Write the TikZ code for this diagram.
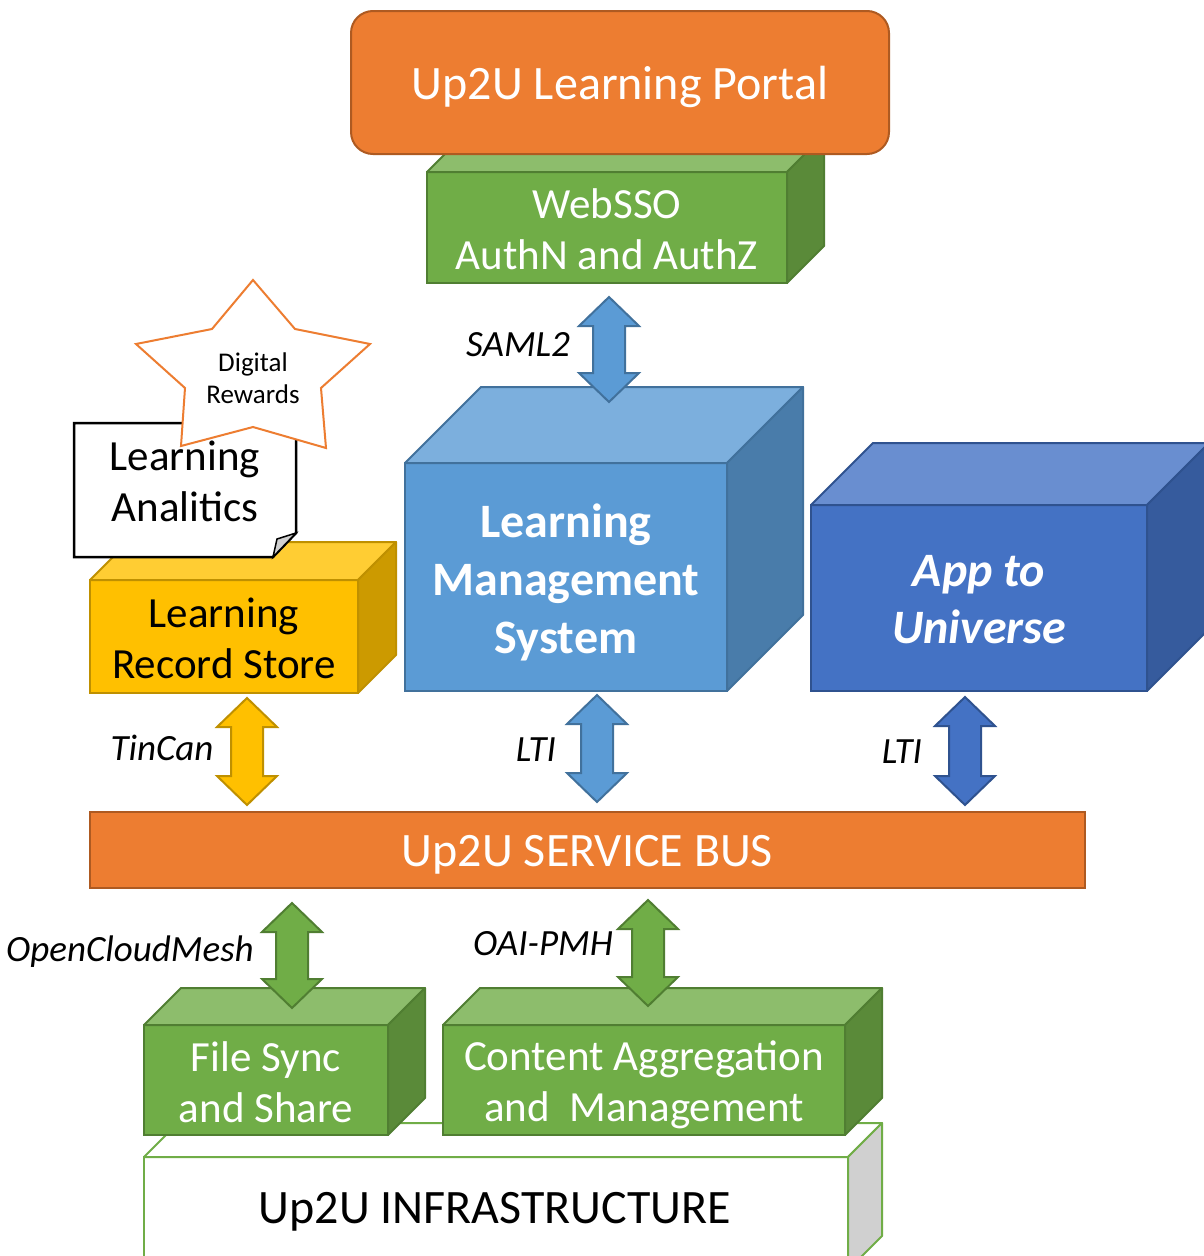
\documentclass[tikz,border=0pt]{standalone}
\usepackage{fontspec}
\setmainfont{Carlito}
\usetikzlibrary{calc}

\definecolor{orangefill}{HTML}{ED7D31}
\definecolor{orangeline}{HTML}{AE5A21}
\definecolor{greenfill}{HTML}{70AD47}
\definecolor{greentop}{HTML}{8DBD6C}
\definecolor{greenside}{HTML}{5A8A39}
\definecolor{greenline}{HTML}{507E32}
\definecolor{bluefill}{HTML}{5B9BD5}
\definecolor{bluetop}{HTML}{7CAFDD}
\definecolor{blueside}{HTML}{497CAA}
\definecolor{blueline}{HTML}{41719C}
\definecolor{navyfill}{HTML}{4472C4}
\definecolor{navytop}{HTML}{698ED0}
\definecolor{navyside}{HTML}{365B9D}
\definecolor{navyline}{HTML}{2F528F}
\definecolor{goldfill}{HTML}{FFC000}
\definecolor{goldtop}{HTML}{FFCD33}
\definecolor{goldside}{HTML}{CC9A00}
\definecolor{goldline}{HTML}{BF9000}
\definecolor{greyside}{HTML}{D0D0D0}

\newcommand{\fbig}{\fontsize{48}{58}\selectfont}
\newcommand{\fmid}{\fontsize{43}{51}\selectfont}
\newcommand{\flms}{\fontsize{48}{58}\selectfont\bfseries}
\newcommand{\fapp}{\fontsize{48}{57}\selectfont\bfseries\itshape}
\newcommand{\fproto}{\fontsize{37}{44}\selectfont\itshape}
\newcommand{\fsmall}{\fontsize{27}{32}\selectfont}

% top and right faces of a box drawn behind a front node
\newcommand{\cubefaces}[5]{%
  \draw[draw=#5, line width=2pt, line join=round, fill=#3] (#1.north west) -- ++(#2,#2) -- ($(#1.north east)+(#2,#2)$) -- (#1.north east) -- cycle;
  \draw[draw=#5, line width=2pt, line join=round, fill=#4] (#1.north east) -- ++(#2,#2) -- ($(#1.south east)+(#2,#2)$) -- (#1.south east) -- cycle;}

% up-down block arrow between two named points
\newcommand{\updown}[4]{%
  \draw[draw=#2, fill=#1, line width=2pt] (#3) -- ($(#3)+(30,-29)$) -- ($(#3)+(16,-29)$) -- ($(#4)+(16,29)$) -- ($(#4)+(30,29)$) -- (#4) -- ($(#4)+(-30,29)$) -- ($(#4)+(-16,29)$) -- ($(#3)+(-16,-29)$) -- ($(#3)+(-30,-29)$) -- cycle;}

\tikzset{
  face/.style={draw, line width=2pt, outer sep=0pt, inner sep=0pt},
  greenface/.style={face, draw=greenline, fill=greenfill},
  blueface/.style={face, draw=blueline, fill=bluefill},
  navyface/.style={face, draw=navyline, fill=navyfill},
  goldface/.style={face, draw=goldline, fill=goldfill},
  facetext/.style={inner sep=0pt, align=center, text=white, font=\fmid},
  proto/.style={font=\fproto, inner sep=0pt}
}

\begin{document}
\begin{tikzpicture}[x=1pt,y=1pt]
\path[use as bounding box, clip] (0,0) rectangle (1204,-1256);
\fill[white] (0,0) rectangle (1204,-1256);

\node[greenface, minimum width=360, minimum height=111] (sso) at (607,-227.5) {};
\cubefaces{sso}{37}{greentop}{greenside}{greenline}
\node[facetext] (ssotext) at ([yshift=-1.5]sso.center) {WebSSO\\AuthN and AuthZ};

\node[face, draw=orangeline, fill=orangefill, rounded corners=22pt, minimum width=538, minimum height=143] (portal) at (620,-82.5) {};
\node[facetext, font=\fbig] (portaltext) at ([yshift=-4]portal.center) {Up2U Learning Portal};

\node[blueface, minimum width=322, minimum height=228] (lms) at (566,-577) {};
\cubefaces{lms}{76}{bluetop}{blueside}{blueline}
\node[facetext, font=\flms] (lmstext) at ([yshift=-5]lms.center) {Learning\\Management\\System};

\coordinate (samltop) at (609,-297);
\coordinate (samlbot) at (609,-402);
\updown{bluefill}{blueline}{samltop}{samlbot}
\node[proto] (saml) at (518,-345) {SAML2};

\node[navyface, minimum width=336, minimum height=186] (app) at (979,-598) {};
\cubefaces{app}{62}{navytop}{navyside}{navyline}
\node[facetext, font=\fapp] (apptext) at ([yshift=-2]app.center) {App to\\Universe};

\node[goldface, minimum width=268, minimum height=113] (lrs) at (224,-636.5) {};
\cubefaces{lrs}{38}{goldtop}{goldside}{goldline}
\node[facetext, text=black] (lrstext) at ([yshift=-1.5]lrs.center) {Learning\\Record Store};

\draw[black, line width=2.5pt, fill=white] (74,-423) -- (296,-423) -- (296,-533) -- (273,-557) -- (74,-557) -- cycle;
\draw[black, line width=1.5pt, fill=greyside] (296,-533) -- (277,-539) -- (273,-557) -- cycle;

\draw[orangefill, line width=2pt, fill=white] (253,-280) -- (295,-329) -- (370,-344) -- (321,-388) -- (326,-448) -- (253,-427) -- (181,-446) -- (185,-388) -- (136,-344) -- (212,-329) -- cycle;
\node[font=\fsmall, align=center, inner sep=0pt] (rewards) at (253,-378) {Digital\\Rewards};
\node[facetext, text=black] (analytics) at (185,-481) {Learning\\Analitics};

\coordinate (tintop) at (247,-698);
\coordinate (tinbot) at (247,-805);
\updown{goldfill}{goldline}{tintop}{tinbot}
\node[proto] (tincan) at (162,-748) {TinCan};

\coordinate (ltitop) at (597,-695);
\coordinate (ltibot) at (597,-802);
\updown{bluefill}{blueline}{ltitop}{ltibot}
\node[proto] (lti) at (536,-750) {LTI};

\coordinate (apptop) at (965,-697);
\coordinate (appbot) at (965,-805);
\updown{navyfill}{navyline}{apptop}{appbot}
\node[proto] (ltiapp) at (902,-752) {LTI};

\node[face, draw=orangeline, fill=orangefill, minimum width=995, minimum height=76] (bus) at (587.5,-850) {};
\node[facetext, font=\fbig] (bustext) at ([yshift=-5]bus.center) {Up2U SERVICE BUS};

\node[face, draw=greenfill, fill=white, minimum width=704, minimum height=113] (infra) at (496,-1213.5) {};
\cubefaces{infra}{34}{white}{greyside}{greenfill}
\node[facetext, text=black, font=\fbig] (infratext) at (495,-1212) {Up2U INFRASTRUCTURE};

\node[greenface, minimum width=244, minimum height=110] (fss) at (266,-1080) {};
\cubefaces{fss}{37}{greentop}{greenside}{greenline}
\node[facetext] (fsstext) at ([yshift=-2.5]fss.center) {File Sync\\and Share};

\node[greenface, minimum width=402, minimum height=110] (cam) at (644,-1080) {};
\cubefaces{cam}{37}{greentop}{greenside}{greenline}
\node[facetext] (camtext) at ([yshift=-5]cam.center) {Content Aggregation\\and~~Management};

\coordinate (ocmtop) at (292,-903);
\coordinate (ocmbot) at (292,-1008);
\updown{greenfill}{greenline}{ocmtop}{ocmbot}
\node[proto] (ocm) at (130,-952) {OpenCloudMesh};

\coordinate (oaitop) at (648,-900);
\coordinate (oaibot) at (648,-1006);
\updown{greenfill}{greenline}{oaitop}{oaibot}
\node[proto] (oai) at (543,-944) {OAI-PMH};
\end{tikzpicture}
\end{document}
